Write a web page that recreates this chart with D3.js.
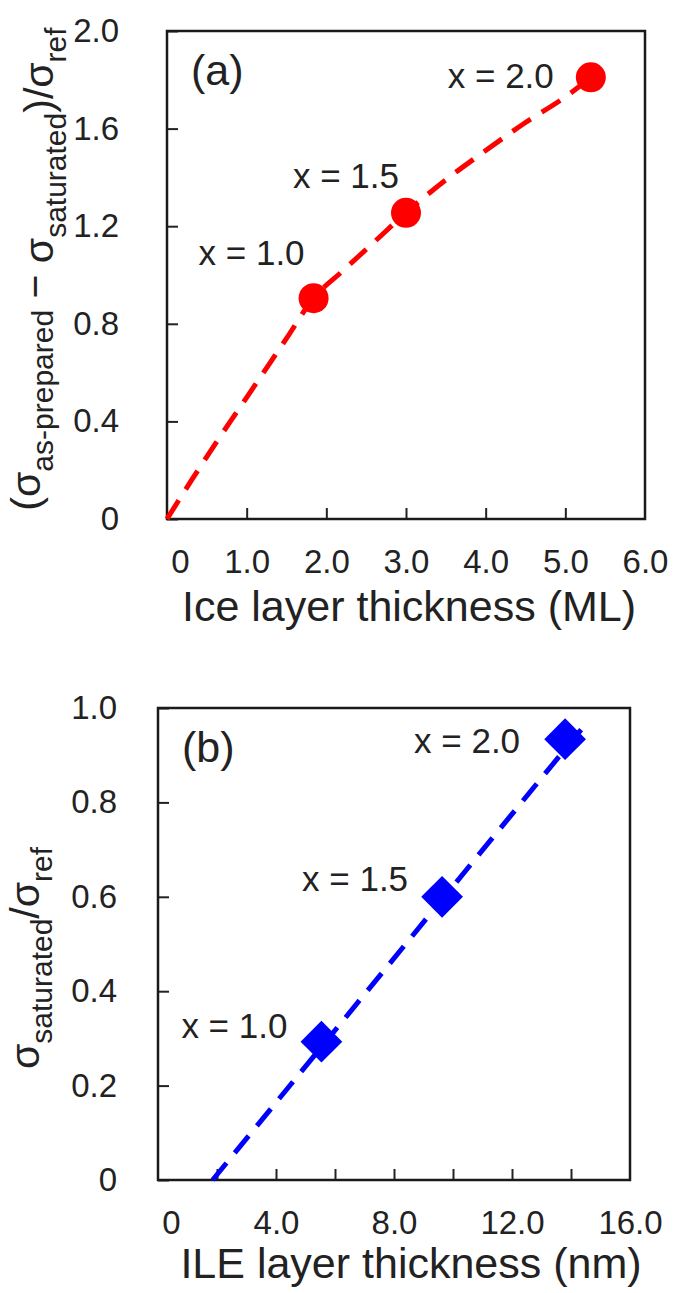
<!DOCTYPE html>
<html>
<head>
<meta charset="utf-8">
<script src="https://cdn.jsdelivr.net/npm/d3@7"></script>
<style>
  body { margin: 0; background: #fff; }
  svg text { font-family: "Liberation Sans", Arial, sans-serif; fill: #222; }
</style>
</head>
<body>
<svg id="chart" width="675" height="1293"></svg>
<script>
// ---- data ----
// panel (a): ice layer thickness vs conductivity change
var iceThick = [1.84, 3.0, 5.32];
var ratioA = [0.905, 1.255, 1.81];
var pointLabels = ["x = 1.0", "x = 1.5", "x = 2.0"];
// dashed guide curve of panel (a)
var fitAx = [0, 0.3, 0.6, 0.9, 1.2, 1.5, 1.84, 2.2, 2.6, 3.0, 3.5, 4.0, 4.5, 5.0, 5.32];
var fitAy = [0, 0.155, 0.305, 0.45, 0.595, 0.74, 0.905, 1.015, 1.135, 1.255, 1.39, 1.51, 1.625, 1.73, 1.81];
var xTicksA = [1, 2, 3, 4, 5];
var xLabelsA = [0, 1, 2, 3, 4, 5, 6];
var yTicksA = [0, 0.4, 0.8, 1.2, 1.6, 2.0];

// panel (b): ILE layer thickness vs saturated conductivity
var ileThick = [5.54, 9.63, 13.8];
var ratioB = [0.293, 0.600, 0.934];
var fitBx = [1.85, 14.55];
var fitBy = [0, 0.97];
var xTicksB = [2, 4, 6, 8, 10, 12, 14];
var xLabelsB = [0, 4, 8, 12, 16];
var yTicksB = [0, 0.2, 0.4, 0.6, 0.8, 1.0];

var svg = d3.select("#chart");
var fmt1 = function (d) { return d === 0 ? "0" : d3.format(".1f")(d); };

function panel(opt) {
    var x = d3.scaleLinear().domain(opt.xDomain).range([opt.left, opt.right]);
    var y = d3.scaleLinear().domain(opt.yDomain).range([opt.bottom, opt.top]);
    var g = svg.append("g");

    // inward tick marks, no labels
    g.append("g")
        .attr("transform", "translate(0," + opt.bottom + ")")
        .call(d3.axisBottom(x).tickValues(opt.xTicks).tickSize(-11).tickSizeOuter(0).tickFormat(""));
    g.append("g")
        .attr("transform", "translate(" + opt.left + ",0)")
        .call(d3.axisLeft(y).tickValues(opt.yTicks).tickSize(-11).tickSizeOuter(0).tickFormat(""));

    // tick labels
    var xl = g.append("g")
        .attr("transform", "translate(0," + opt.bottom + ")")
        .call(d3.axisBottom(x).tickValues(opt.xLabels).tickSize(0).tickPadding(31).tickFormat(fmt1));
    var yl = g.append("g")
        .attr("transform", "translate(" + opt.yLabelX + ",0)")
        .call(d3.axisLeft(y).tickValues(opt.yTicks).tickSize(0).tickPadding(0).tickFormat(fmt1));
    [xl, yl].forEach(function (a) {
        a.select(".domain").remove();
        a.selectAll("text").style("font-size", "33px").attr("fill", "#222");
    });
    xl.selectAll("text").filter(function (d) { return d === 0; }).attr("dx", 13);

    g.selectAll(".tick line").attr("stroke", "#222").attr("stroke-width", 2);
    g.selectAll(".domain").remove();

    // plot frame
    g.append("rect")
        .attr("x", opt.left).attr("y", opt.top)
        .attr("width", opt.right - opt.left).attr("height", opt.bottom - opt.top)
        .attr("fill", "none").attr("stroke", "#1a1a1a").attr("stroke-width", 2.5);

    // dashed guide
    var line = d3.line()
        .x(function (d) { return x(d[0]); })
        .y(function (d) { return y(d[1]); })
        .curve(d3.curveMonotoneX);
    g.append("path")
        .datum(d3.zip(opt.fitX, opt.fitY))
        .attr("d", line)
        .attr("fill", "none")
        .attr("stroke", opt.color)
        .attr("stroke-width", 5)
        .attr("stroke-dasharray", "22,13");

    // markers
    var pts = d3.zip(opt.px, opt.py);
    g.selectAll(".pt").data(pts).enter().append("path")
        .attr("class", "pt")
        .attr("d", d3.symbol().type(opt.symbol).size(opt.symbolSize))
        .attr("transform", function (d) {
            return "translate(" + x(d[0]) + "," + y(d[1]) + ") rotate(" + opt.rotate + ")";
        })
        .attr("fill", opt.color);

    // point labels
    g.selectAll(".lab").data(pts).enter().append("text")
        .attr("class", "lab")
        .attr("x", function (d, i) { return x(d[0]) + opt.labOff[i][0]; })
        .attr("y", function (d, i) { return y(d[1]) + opt.labOff[i][1]; })
        .attr("text-anchor", "end")
        .style("font-size", "35px")
        .text(function (d, i) { return pointLabels[i]; });

    // panel letter
    g.append("text")
        .attr("x", opt.left + 24).attr("y", opt.top + 54)
        .style("font-size", "43px")
        .text(opt.letter);

    // x title
    g.append("text")
        .attr("x", opt.xTitleX).attr("y", opt.xTitleY)
        .attr("text-anchor", "middle")
        .style("font-size", "43px")
        .text(opt.xTitle);

    // y title with subscripts
    var yt = g.append("text")
        .attr("transform", "translate(" + opt.yTitleX + "," + opt.yTitleY + ") rotate(-90)")
        .attr("text-anchor", "middle")
        .style("font-size", "41px");
    opt.yTitle.forEach(function (p) {
        var t = yt.append("tspan").text(p[0]);
        if (p[1] === "sub") t.style("font-size", "30px").attr("dy", 13);
        else if (p[1] === "up") t.attr("dy", -13);
        else if (p[1] === "mid") t.attr("dy", -4);
        else if (p[1] === "back") t.attr("dy", 4);
    });
}

panel({
    xDomain: [0, 6], yDomain: [0, 2],
    left: 167, right: 645, top: 31, bottom: 519,
    xTicks: xTicksA, xLabels: xLabelsA, yTicks: yTicksA, yLabelX: 119,
    fitX: fitAx, fitY: fitAy, px: iceThick, py: ratioA,
    color: "#ff0000", symbol: d3.symbolCircle, symbolSize: Math.PI * 15 * 15, rotate: 0,
    labOff: [[-9, -33], [-7, -25], [-37, 11]],
    letter: "(a)",
    xTitle: "Ice layer thickness (ML)", xTitleX: 409, xTitleY: 621,
    yTitleX: 40, yTitleY: 269,
    yTitle: [["(σ", ""], ["as-prepared", "sub"], [" − ", "mid"], ["σ", "back"], ["saturated", "sub"],
             [")/σ", "up"], ["ref", "sub"]]
});

panel({
    xDomain: [0, 16], yDomain: [0, 1],
    left: 158, right: 630, top: 708, bottom: 1180,
    xTicks: xTicksB, xLabels: xLabelsB, yTicks: yTicksB, yLabelX: 117,
    fitX: fitBx, fitY: fitBy, px: ileThick, py: ratioB,
    color: "#0000ff", symbol: d3.symbolSquare, symbolSize: 870, rotate: 45,
    labOff: [[-34, -4], [-34, -6], [-45, 14]],
    letter: "(b)",
    xTitle: "ILE layer thickness (nm)", xTitleX: 411, xTitleY: 1278,
    yTitleX: 39, yTitleY: 958,
    yTitle: [["σ", ""], ["saturated", "sub"], ["/σ", "up"], ["ref", "sub"]]
});
</script>
</body>
</html>
